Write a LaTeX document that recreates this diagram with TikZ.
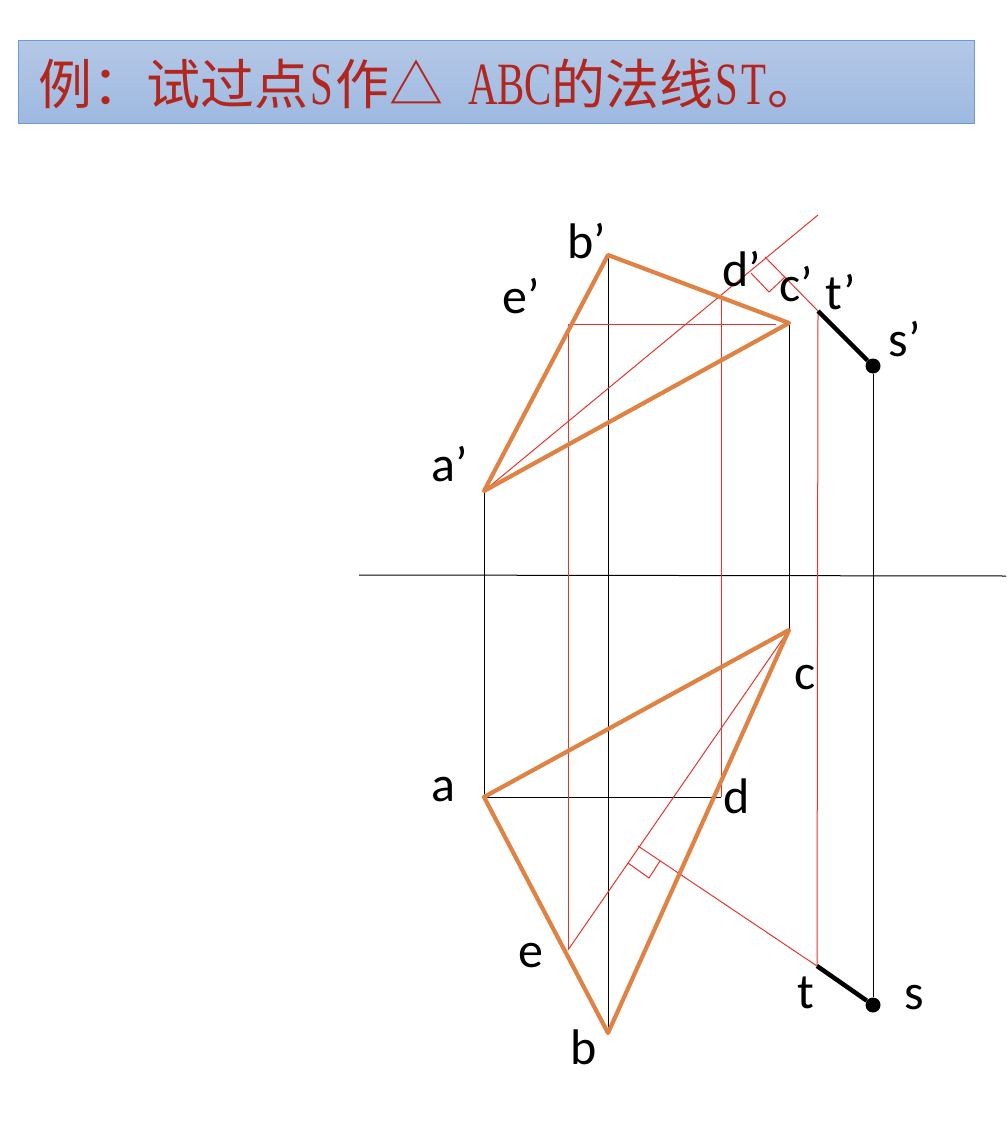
\documentclass[tikz,border=0pt]{standalone}
\usepackage{fontspec}
\setmainfont{Carlito}
\newfontfamily\cjk{Noto Sans CJK SC}
\newfontfamily\lat[FakeStretch=0.68]{Liberation Serif}
\newcommand{\hw}[1]{\makebox[27pt][c]{\fontsize{60}{60}\selectfont\lat #1}}
\definecolor{orangeln}{HTML}{DF8244}
\definecolor{redln}{HTML}{E8342C}
\definecolor{titlered}{HTML}{B3261E}
\definecolor{bandtop}{HTML}{B4C8E7}
\definecolor{bandbot}{HTML}{9DB9E0}
\definecolor{bandedge}{HTML}{6B9BD8}
\tikzset{
  x=1pt,y=-1pt,
  tri/.style={draw=orangeln,line width=4.2pt,line cap=round,line join=round},
  thinblack/.style={draw=black,line width=1pt},
  thinred/.style={draw=redln,line width=1pt},
  thickblack/.style={draw=black,line width=4.5pt},
  lab/.style={anchor=base,inner sep=0pt,font=\fontsize{50}{50}\selectfont},
  dot/.style={circle,fill=black,inner sep=0pt,minimum size=15pt}
}
\begin{document}
\begin{tikzpicture}
\useasboundingbox (0,0) rectangle (1006,1142);
\fill[white] (0,0) rectangle (1006,1142);
\shade[top color=bandtop,bottom color=bandbot] (18.5,41) rectangle (974.5,124);
\draw[bandedge,line width=1pt] (18.5,41) rectangle (974.5,124);
\node[anchor=base west,inner sep=0pt,text=titlered,font=\fontsize{54}{54}\selectfont] (title) at (38,105)
 {\cjk 例：试过点\hw{S}作△\hspace{27pt}\hw{A}\hw{B}\hw{C}的法线\hw{S}\hw{T}。};

% upper view points
\coordinate (ap) at (484,491);
\coordinate (bp) at (608,255);
\coordinate (cp) at (789,323);
\coordinate (dp) at (721,296);
\coordinate (ep) at (568,324);
\coordinate (ecp) at (776,324);
\coordinate (tp) at (818,311);
\coordinate (fp) at (765,257);
\coordinate (xp) at (818,215);
\node[dot] (sp) at (873,366) {};
% lower view points
\coordinate (a) at (484,797);
\coordinate (b) at (608,1033);
\coordinate (c) at (789,630);
\coordinate (d) at (721,797);
\coordinate (e) at (568,950);
\coordinate (t) at (817,966);
\coordinate (f) at (638,846);
\node[dot] (s) at (873,1005) {};
% ground line
\coordinate (g1) at (359,575);
\coordinate (g2) at (1006,576);
\draw[thinblack] (g1) -- (g2);
% projection lines
\draw[thinblack] (ap) -- (a);
\draw[thinblack] (bp) -- (b);
\draw[thinblack] (cp) -- (c);
\draw[thinblack] (sp) -- (s);
\draw[thinblack] (a) -- (d);
% red construction
\draw[thinred] (ep) -- (ecp);
\draw[thinred] (ep) -- (e);
\draw[thinred] (dp) -- (d);
\draw[thinred] (tp) -- (t);
\draw[thinred] (ap) -- (xp);
\draw[thinred] (fp) -- (tp);
\draw[thinred] (e) -- (c);
\draw[thinred] (f) -- (t);
\draw[thinred] (751,273) -- (769,292) -- (785,277);
\draw[thinred] (628,863) -- (649,878) -- (660,861);
% triangles
\draw[tri] (ap) -- (bp) -- (cp) -- cycle;
\draw[tri] (a) -- (b) -- (c) -- cycle;
% thick
\draw[thickblack] (tp) -- (sp);
\draw[thickblack] (t) -- (s);
% labels
\node[lab] (lbp) at (587,258) {b’};
\node[lab] (lep) at (521,313) {e’};
\node[lab] (ldp) at (742,286) {d’};
\node[lab] (lcp) at (796,301) {c’};
\node[lab] (ltp) at (841,309) {t’};
\node[lab] (lsp) at (905,356) {s’};
\node[lab] (lap) at (450,481) {a’};
\node[lab] (la) at (443,801) {a};
\node[lab] (lc) at (805,689) {c};
\node[lab] (ld) at (737,813) {d};
\node[lab] (le) at (531,967) {e};
\node[lab] (lt) at (806,1008) {t};
\node[lab] (ls) at (914,1009) {s};
\node[lab] (lb) at (584,1064) {b};
\end{tikzpicture}
\end{document}
